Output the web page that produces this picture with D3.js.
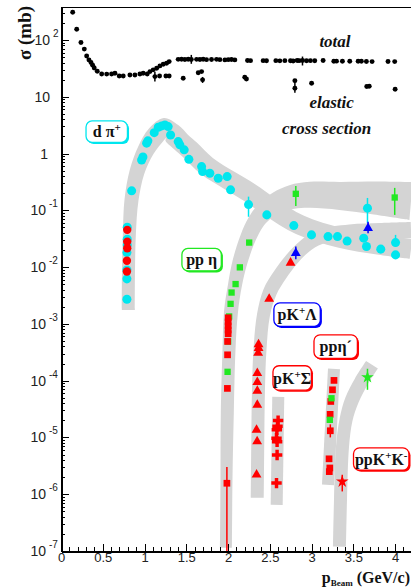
<!DOCTYPE html>

<head>
    <title>Cross sections</title>
    <meta charset="utf-8" />
</head>

<style>
    body {
        margin: 0;
        background-color: #FFFFFF;
    }

    .axis path,
    .axis line {
        fill: none;
        stroke: #000;
        shape-rendering: crispEdges;
    }

    .axis path.domain {
        stroke-width: 2px;
    }

    .axis text,
    .ticklbl {
        font-family: "Liberation Sans", Arial, sans-serif;
        fill: #222;
    }

    .lbl {
        font-family: "Liberation Serif", serif;
        font-weight: bold;
        fill: #111;
    }
</style>

<body>
    <svg id="chart" width="411" height="587"></svg>
    <script src="https://d3js.org/d3.v7.min.js"></script>

    <script>
        // ---- data: [p_beam (GeV/c), sigma (mb), err low, err high] ----
        var totalXS = [
            [0.14, 308], [0.188, 154], [0.239, 90], [0.279, 69], [0.307, 52], [0.335, 44.5], [0.359, 40], [0.379, 36],
            [0.398, 32], [0.434, 28], [0.487, 25.2], [0.547, 25], [0.606, 25.2], [0.646, 25.9], [0.697, 23.2],
            [0.745, 23.2], [0.825, 24.2], [0.885, 24.2], [0.945, 25.2], [0.984, 25.9], [1.032, 25.2], [1.065, 27.7],
            [1.104, 29.7], [1.145, 31.8], [1.184, 34.9], [1.224, 37.3], [1.264, 38.9], [1.295, 41.5],
            [1.403, 45.5], [1.443, 45.7], [1.483, 45.2], [1.523, 45.7], [1.56, 45.2, 38, 54.5], [1.623, 45.5],
            [1.663, 45.2], [1.702, 45.7], [1.742, 45], [1.802, 45.2], [1.862, 45.5], [1.902, 45], [1.962, 44.5],
            [2.002, 45], [2.041, 45.2], [2.081, 44.5], [2.233, 43.5], [2.269, 43.2], [2.42, 43.2], [2.46, 43],
            [2.572, 43.2], [2.62, 42.8], [2.68, 43.2], [2.747, 43], [2.779, 42.5], [2.827, 43.5], [2.851, 43.2],
            [2.891, 43.5, 35.5, 51], [2.939, 43], [2.986, 43.2], [3.038, 43], [3.138, 43.5], [3.266, 42], [3.298, 42.3],
            [3.369, 42], [3.457, 42.2], [3.557, 42], [3.596, 42.2], [3.656, 41.8], [3.724, 41.5], [3.915, 41.8],
            [3.995, 41.5]
        ];

        var elasticXS = [
            [1.124, 22.6, 18.5, 27.5], [1.18, 23.2], [1.256, 23.2], [1.295, 23.2], [1.463, 21.1], [1.643, 26.5],
            [1.683, 27.7], [1.695, 19.8, 17.5, 22.3], [2.20, 22], [2.22, 20.5], [2.80, 19.2], [2.80, 14.1, 11.7, 19.5],
            [3.0, 17.3], [3.66, 15.1], [3.69, 15.3], [4.0, 13.5]
        ];

        var dpiXS = [
            [0.793, 0.0504], [0.793, 0.031], [0.793, 0.0246], [0.789, 0.018], [0.789, 0.0089], [0.789, 0.0062],
            [0.789, 0.00272], [0.846, 0.22], [0.965, 0.77], [0.981, 0.87], [1.025, 1.52], [1.04, 1.67], [1.116, 2.33],
            [1.164, 2.9], [1.205, 3.06], [1.244, 3.19], [1.283, 2.98], [1.312, 2.12], [1.403, 1.62], [1.423, 1.42],
            [1.475, 1.16], [1.531, 0.79], [1.683, 0.588], [1.695, 0.48], [1.782, 0.45], [1.882, 0.367], [1.989, 0.392],
            [2.03, 0.229], [2.245, 0.126, 0.077, 0.174], [2.464, 0.083], [2.787, 0.0538], [2.999, 0.0369],
            [3.197, 0.0344], [3.31, 0.0344], [3.425, 0.0287], [3.624, 0.0323], [3.657, 0.023], [3.828, 0.0207],
            [4.005, 0.027, 0.023, 0.0369], [4.005, 0.0164], [3.669, 0.109, 0.06, 0.165]
        ];

        var dpiRed = [[0.793, 0.0452], [0.793, 0.0281], [0.793, 0.0215], [0.789, 0.0129], [0.789, 0.00834]];

        var etaGreen = [
            [2.253, 0.027], [2.141, 0.00988], [2.09, 0.00502], [2.042, 0.00356], [2.03, 0.00225], [2.013, 0.00135],
            [2.001, 0.000489], [1.994, 0.000143], [2.811, 0.195, 0.119, 0.269], [3.995, 0.168, 0.083, 0.248]
        ];

        var etaRed = [
            [2.001, 1.28e-3], [2.001, 1.08e-3], [2.001, 9.2e-4], [2.001, 7.8e-4], [2.001, 6.7e-4], [1.994, 4.9e-4],
            [1.994, 2.85e-4], [1.992, 7.3e-5], [1.986, 1.56e-6, 1e-9, 3.03e-6]
        ];

        var etaPrimeRed = [
            [3.268, 1.01e-4], [3.25, 6.9e-5], [3.23, 4.3e-5], [3.222, 2.55e-5], [3.224, 1.31e-5, 1.0e-5, 1.7e-5],
            [3.209, 4.2e-6], [3.218, 2.9e-6], [3.212, 2.5e-6]
        ];
        var etaPrimeGreen = [[3.238, 4.9e-5], [3.218, 2.04e-5]];

        var kLambdaRed = [
            [2.748, 0.0119], [2.492, 2.74e-3], [2.365, 4.36e-4], [2.365, 3.75e-4], [2.36, 3.08e-4], [2.35, 1.35e-4],
            [2.35, 9.4e-5], [2.35, 6.6e-5], [2.35, 3.75e-5], [2.341, 1.36e-5], [2.348, 8.5e-6], [2.341, 2.2e-6]
        ];
        var kLambdaBlue = [[2.811, 0.0176, 0.0137, 0.023], [3.676, 0.0484, 0.0395, 0.063]];

        var kSigmaRed = [
            [2.599, 1.98e-5], [2.592, 1.57e-5], [2.584, 1.36e-5], [2.58, 9.7e-6], [2.587, 8.4e-6], [2.587, 4.9e-6],
            [2.58, 1.57e-6]
        ];

        var kkRed = [[3.367, 1.67e-6, 1.12e-6, 2.2e-6]];
        var kkGreen = [[3.669, 1.15e-4, 6.9e-5, 1.62e-4]];

        // theory bands: centre lines [p, sigma]
        var bandDpi = [
            [0.806, 1.76e-3], [0.808, 8.9e-3], [0.818, 0.0369], [0.844, 0.152], [0.910, 0.474], [1.018, 1.16],
            [1.137, 2.12], [1.245, 2.82], [1.329, 2.31], [1.437, 1.60], [1.544, 1.16], [1.744, 0.605], [2.023, 0.33],
            [2.263, 0.202], [2.502, 0.115], [2.861, 0.0553], [3.340, 0.0327], [3.819, 0.0246], [4.19, 0.0209]
        ];
        var bandEta = [
            [1.975, 1.14e-7], [1.981, 1.79e-6], [1.991, 2.71e-5], [2.011, 3.48e-4], [2.035, 1.63e-3], [2.083, 4.86e-3],
            [2.143, 0.0124], [2.239, 0.0327], [2.334, 0.0625], [2.442, 0.0975], [2.598, 0.141], [2.765, 0.172],
            [2.981, 0.187], [3.340, 0.179], [3.759, 0.165], [4.19, 0.146]
        ];
        var bandKLambda = [
            [2.350, 8.65e-7], [2.356, 9.08e-6], [2.364, 6.89e-5], [2.382, 3.48e-4], [2.424, 1.44e-3], [2.502, 3.66e-3],
            [2.622, 7.29e-3], [2.765, 0.0139], [2.921, 0.0236], [3.101, 0.034], [3.460, 0.0417], [3.819, 0.0434],
            [4.19, 0.0452]
        ];
        var bandKSigma = [[2.601, 5.19e-5], [2.582, 6.5e-7]];
        var bandEtaPrime = [[3.268, 1.61e-4], [3.196, 1.46e-6]];
        var bandKK = [
            [3.334, 1.19e-7], [3.346, 7.96e-7], [3.370, 6.84e-6], [3.412, 2.04e-5], [3.484, 4.59e-5], [3.592, 9.5e-5],
            [3.723, 1.9e-4]
        ];

        // tick values
        var xMajor = [0, 0.5, 1, 1.5, 2, 2.5, 3, 3.5, 4];
        var xMinor = d3.range(0, 4.15, 0.1);
        var yExp = [-7, -6, -5, -4, -3, -2, -1, 0, 1, 2];

        // ---- chart ----
        var cyan = "#00e6ee", red = "#ff0000", green = "#22e822", blue = "#0000ff", band = "#d4d4d4";

        var x = d3.scaleLinear().domain([0, 4.19]).range([61, 411]);
        var y = d3.scaleLog().domain([1e-7, Math.pow(10, 2.58)]).range([551, 7]);

        var svg = d3.select("#chart");

        svg.append("clipPath").attr("id", "clip")
            .append("rect").attr("x", 61).attr("y", 7).attr("width", 350).attr("height", 544);

        var plot = svg.append("g").attr("clip-path", "url(#clip)");

        function bandPath(pts, widths) {
            var px = pts.map(function(d) { return [x(d[0]), y(d[1])]; });
            var left = [], right = [];
            px.forEach(function(p, i) {
                var a = px[Math.max(i - 1, 0)], b = px[Math.min(i + 1, px.length - 1)];
                var dx = b[0] - a[0], dy = b[1] - a[1], len = Math.hypot(dx, dy);
                var nx = -dy / len, ny = dx / len, h = widths[i] / 2;
                left.push([p[0] + nx * h, p[1] + ny * h]);
                right.push([p[0] - nx * h, p[1] - ny * h]);
            });
            var line = d3.line().curve(d3.curveCatmullRom);
            return line(left) + line(right.reverse()).replace("M", "L") + "Z";
        }

        var bands = [
            [bandDpi, [13, 13, 13, 14, 15, 17, 19, 20, 20, 20, 20, 20, 20, 20, 20, 20, 20, 20, 20]],
            [bandEta, [12, 12, 13, 13, 14, 14, 15, 16, 17, 19, 21, 24, 26, 28, 33, 38]],
            [bandKLambda, [13, 13, 13, 13, 13, 14, 14, 14, 14, 15, 15, 16, 16]],
            [bandKSigma, [12, 12]],
            [bandEtaPrime, [12, 12]],
            [bandKK, [13, 13, 13, 13, 14, 14, 14]]
        ];

        plot.selectAll(".band")
            .data(bands)
            .enter().append("path")
            .attr("class", "band")
            .attr("d", function(d) { return bandPath(d[0], d[1]); })
            .attr("fill", band);

        function drawSeries(data, type, size, color) {
            var g = plot.append("g");
            g.selectAll("line")
                .data(data.filter(function(d) { return d.length > 2; }))
                .enter().append("line")
                .attr("x1", function(d) { return x(d[0]); })
                .attr("x2", function(d) { return x(d[0]); })
                .attr("y1", function(d) { return y(Math.max(d[2], 1e-8)); })
                .attr("y2", function(d) { return y(d[3]); })
                .attr("stroke", color)
                .attr("stroke-width", 1.5);
            g.selectAll("path")
                .data(data)
                .enter().append("path")
                .attr("transform", function(d) { return "translate(" + x(d[0]) + "," + y(d[1]) + ")"; })
                .attr("d", d3.symbol().type(type).size(size))
                .attr("fill", color);
        }

        drawSeries(totalXS, d3.symbolCircle, 19, "#000");
        drawSeries(elasticXS, d3.symbolCircle, 19, "#000");
        drawSeries(dpiXS, d3.symbolCircle, 64, cyan);
        drawSeries(dpiRed, d3.symbolCircle, 55, red);
        drawSeries(etaGreen, d3.symbolSquare, 40, green);
        drawSeries(etaRed, d3.symbolSquare, 45, red);
        drawSeries(etaPrimeRed, d3.symbolSquare, 45, red);
        drawSeries(etaPrimeGreen, d3.symbolSquare, 40, green);
        drawSeries(kLambdaRed, d3.symbolTriangle, 42, red);
        drawSeries(kLambdaBlue, d3.symbolTriangle, 42, blue);
        drawSeries(kSigmaRed, d3.symbolCross, 60, red);
        drawSeries(kkRed, d3.symbolStar, 50, red);
        drawSeries(kkGreen, d3.symbolStar, 50, green);

        // ---- text annotations ----
        svg.append("text").attr("class", "lbl").attr("font-style", "italic").attr("font-size", 17)
            .attr("x", x(3.28)).attr("y", 47).attr("text-anchor", "middle").text("total");
        svg.append("text").attr("class", "lbl").attr("font-style", "italic").attr("font-size", 17)
            .attr("x", x(3.24)).attr("y", 108).attr("text-anchor", "middle").text("elastic");
        svg.append("text").attr("class", "lbl").attr("font-style", "italic").attr("font-size", 17)
            .attr("x", x(3.18)).attr("y", 134).attr("text-anchor", "middle").text("cross section");

        var tags = [
            { p: 0.557, s: 2.35, w: 43, h: 23, c: cyan, t: [["d π", 0], ["+", 1]] },
            { p: 1.693, s: 0.0131, w: 41, h: 24, c: green, t: [["pp η", 0]] },
            { p: 2.836, s: 1.41e-3, w: 48, h: 25, c: blue, t: [["pK", 0], ["+", 1], ["Λ", 0]] },
            { p: 3.298, s: 3.85e-4, w: 45, h: 25, c: red, t: [["ppη´", 0]] },
            { p: 2.777, s: 1.08e-4, w: 40, h: 26, c: red, t: [["pK", 0], ["+", 1], ["Σ", 0]] },
            { p: 3.843, s: 4.03e-6, w: 57, h: 24, c: red, t: [["ppK", 0], ["+", 1], ["K", 0], ["-", 1]] }
        ];

        tags.forEach(function(d) {
            var cx = x(d.p), cy = y(d.s);
            var g = svg.append("g");
            g.append("rect")
                .attr("x", cx - d.w / 2 + 1.6).attr("y", cy - d.h / 2 + 1.6)
                .attr("width", d.w - 1.6).attr("height", d.h - 1.6)
                .attr("rx", 6).attr("fill", d.c);
            g.append("rect")
                .attr("x", cx - d.w / 2).attr("y", cy - d.h / 2)
                .attr("width", d.w - 1.6).attr("height", d.h - 1.6)
                .attr("rx", 6).attr("fill", "#fff")
                .attr("stroke", d.c).attr("stroke-width", 1.3);
            var txt = g.append("text").attr("class", "lbl").attr("font-size", 16)
                .attr("x", cx - 0.8).attr("y", cy + 5).attr("text-anchor", "middle");
            var prev = 0;
            d.t.forEach(function(part) {
                var shift = part[1] ? -6 : 0;
                txt.append("tspan")
                    .attr("dy", shift - prev)
                    .attr("font-size", part[1] ? 11 : 16)
                    .text(part[0]);
                prev = shift;
            });
        });

        // ---- axes ----
        var yMajor = yExp.map(function(e) { return Math.pow(10, e); });
        var yMinor = [];
        yExp.forEach(function(e) {
            for (var k = 2; k <= 9; k++) {
                if (k * Math.pow(10, e) < Math.pow(10, 2.58)) yMinor.push(k * Math.pow(10, e));
            }
        });

        svg.append("g")
            .attr("class", "axis")
            .attr("transform", "translate(61,0)")
            .call(d3.axisLeft(y).tickValues(yMinor).tickSize(-4).tickSizeOuter(0).tickFormat(""));

        svg.append("g")
            .attr("class", "axis")
            .attr("transform", "translate(61,0)")
            .call(d3.axisLeft(y).tickValues(yMajor).tickSize(-8).tickSizeOuter(0).tickFormat(""));

        svg.append("g")
            .attr("class", "axis")
            .attr("transform", "translate(0,551)")
            .call(d3.axisBottom(x).tickValues(xMinor).tickSize(-4).tickSizeOuter(0).tickFormat(""));

        svg.append("g")
            .attr("class", "axis")
            .attr("transform", "translate(0,551)")
            .call(d3.axisBottom(x).tickValues(xMajor).tickSize(-7).tickSizeOuter(0).tickPadding(2)
                .tickFormat(function(d) { return String(d); }))
            .selectAll("text").attr("font-size", 13);

        // top frame
        svg.append("line")
            .attr("x1", 61).attr("x2", 411).attr("y1", 7.5).attr("y2", 7.5)
            .attr("stroke", "#000").attr("stroke-width", 1);

        // y tick labels 10^n
        yExp.forEach(function(e) {
            var ty = y(Math.pow(10, e)) + 5;
            if (e === 0 || e === 1) {
                svg.append("text").attr("class", "ticklbl").attr("font-size", 14)
                    .attr("x", e === 0 ? 48 : 50).attr("y", ty).attr("text-anchor", "end")
                    .text(e === 0 ? "1" : "10");
            } else {
                var bx = e > 0 ? 50 : 46;
                svg.append("text").attr("class", "ticklbl").attr("font-size", 14)
                    .attr("x", bx).attr("y", ty).attr("text-anchor", "end").text("10");
                svg.append("text").attr("class", "ticklbl").attr("font-size", 10)
                    .attr("x", bx + 3).attr("y", ty - 8).text(String(e));
            }
        });

        // axis titles
        svg.append("text").attr("class", "lbl").attr("font-size", 19)
            .attr("transform", "translate(31,33) rotate(-90)")
            .attr("text-anchor", "middle")
            .text("σ (mb)");

        var xt = svg.append("text").attr("class", "lbl").attr("font-size", 16)
            .attr("x", 410).attr("y", 583).attr("text-anchor", "end");
        xt.append("tspan").text("p");
        xt.append("tspan").attr("font-size", 9).attr("dy", 3).text("Beam");
        xt.append("tspan").attr("dy", -3).text(" (GeV/c)");
    </script>

</body>
